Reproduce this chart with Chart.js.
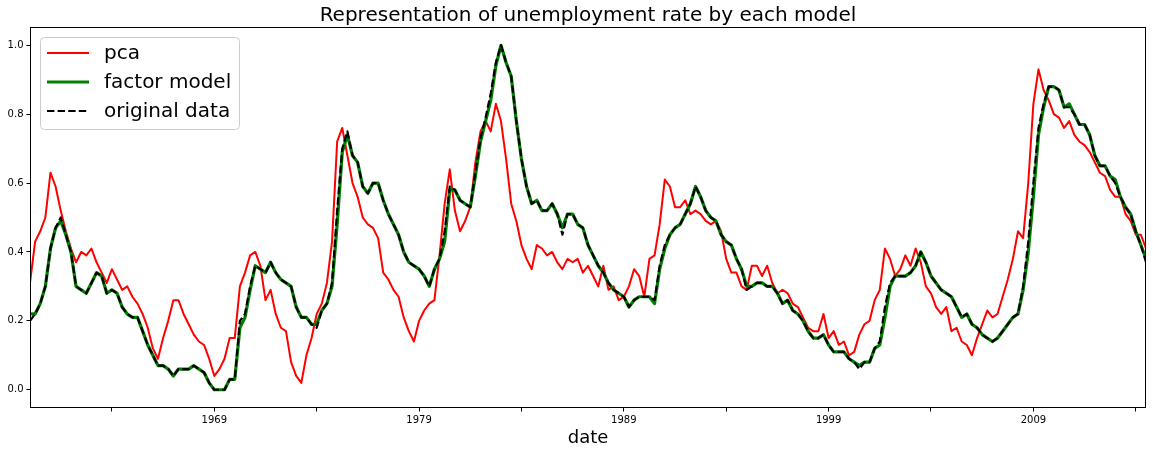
<!DOCTYPE html>
<html>
<head>
<meta charset="utf-8">
<script src="https://cdn.jsdelivr.net/npm/chart.js@4.4.0/dist/chart.umd.min.js"></script>
<style>
  html, body { margin: 0; padding: 0; background: #fff; }
  #wrap { width: 1153px; height: 454px; }
</style>
</head>
<body>
<div id="wrap"><canvas id="graphic" width="1153" height="454"></canvas></div>
<script>
// quarterly readings, first point = 1960 Q1
const startYear = 1960
const stepYears = 0.25

const pca = [
  0.31, 0.43, 0.46, 0.50, 0.63, 0.59, 0.52, 0.46, 0.41, 0.37,
  0.40, 0.39, 0.41, 0.37, 0.34, 0.31, 0.35, 0.32, 0.29, 0.30,
  0.27, 0.25, 0.22, 0.18, 0.12, 0.09, 0.15, 0.20, 0.26, 0.26,
  0.22, 0.19, 0.16, 0.14, 0.13, 0.09, 0.04, 0.06, 0.09, 0.15,
  0.15, 0.30, 0.34, 0.39, 0.40, 0.36, 0.26, 0.29, 0.22, 0.18,
  0.17, 0.08, 0.04, 0.02, 0.10, 0.15, 0.22, 0.25, 0.31, 0.43,
  0.72, 0.76, 0.68, 0.60, 0.56, 0.50, 0.48, 0.47, 0.44, 0.34,
  0.32, 0.29, 0.27, 0.21, 0.17, 0.14, 0.20, 0.23, 0.25, 0.26,
  0.39, 0.54, 0.64, 0.52, 0.46, 0.49, 0.53, 0.66, 0.75, 0.78,
  0.75, 0.83, 0.78, 0.67, 0.54, 0.49, 0.42, 0.38, 0.35, 0.42,
  0.41, 0.39, 0.40, 0.37, 0.35, 0.38, 0.37, 0.38, 0.34, 0.36,
  0.33, 0.30, 0.36, 0.29, 0.30, 0.26, 0.27, 0.30, 0.35, 0.33,
  0.27, 0.38, 0.39, 0.48, 0.61, 0.59, 0.53, 0.53, 0.55, 0.51,
  0.52, 0.51, 0.49, 0.48, 0.49, 0.46, 0.38, 0.34, 0.34, 0.30,
  0.29, 0.36, 0.36, 0.33, 0.36, 0.31, 0.28, 0.29, 0.28, 0.25,
  0.24, 0.21, 0.18, 0.17, 0.17, 0.22, 0.15, 0.17, 0.13, 0.14,
  0.10, 0.11, 0.16, 0.19, 0.20, 0.26, 0.29, 0.41, 0.38, 0.33,
  0.35, 0.39, 0.36, 0.41, 0.37, 0.30, 0.28, 0.24, 0.22, 0.24,
  0.17, 0.18, 0.14, 0.13, 0.10, 0.15, 0.19, 0.23, 0.21, 0.22,
  0.27, 0.32, 0.38, 0.46, 0.44, 0.60, 0.83, 0.93, 0.87, 0.84,
  0.80, 0.79, 0.76, 0.78, 0.74, 0.72, 0.71, 0.69, 0.66, 0.63,
  0.62, 0.58, 0.56, 0.56, 0.51, 0.49, 0.45, 0.45, 0.41
]

const factorModel = [
  0.22, 0.22, 0.25, 0.30, 0.41, 0.47, 0.49, 0.45, 0.40, 0.30,
  0.29, 0.28, 0.31, 0.34, 0.33, 0.28, 0.29, 0.28, 0.24, 0.22,
  0.21, 0.21, 0.17, 0.13, 0.10, 0.07, 0.07, 0.06, 0.04, 0.06,
  0.06, 0.06, 0.07, 0.06, 0.05, 0.02, 0.00, 0.00, 0.00, 0.03,
  0.03, 0.18, 0.21, 0.29, 0.36, 0.35, 0.34, 0.37, 0.34, 0.32,
  0.31, 0.30, 0.24, 0.21, 0.21, 0.19, 0.19, 0.23, 0.25, 0.30,
  0.48, 0.69, 0.74, 0.68, 0.66, 0.59, 0.57, 0.60, 0.60, 0.55,
  0.51, 0.48, 0.45, 0.40, 0.37, 0.36, 0.35, 0.33, 0.30, 0.35,
  0.38, 0.43, 0.58, 0.58, 0.55, 0.54, 0.53, 0.62, 0.72, 0.78,
  0.84, 0.94, 1.00, 0.95, 0.91, 0.78, 0.67, 0.59, 0.54, 0.55,
  0.52, 0.52, 0.54, 0.51, 0.47, 0.51, 0.51, 0.48, 0.47, 0.42,
  0.39, 0.36, 0.34, 0.31, 0.29, 0.28, 0.27, 0.24, 0.26, 0.27,
  0.27, 0.27, 0.25, 0.35, 0.41, 0.45, 0.47, 0.48, 0.51, 0.54,
  0.59, 0.56, 0.52, 0.50, 0.49, 0.45, 0.43, 0.42, 0.38, 0.35,
  0.30, 0.30, 0.31, 0.31, 0.30, 0.30, 0.28, 0.25, 0.26, 0.23,
  0.22, 0.20, 0.17, 0.15, 0.15, 0.16, 0.13, 0.11, 0.11, 0.11,
  0.09, 0.08, 0.07, 0.08, 0.08, 0.12, 0.13, 0.21, 0.30, 0.33,
  0.33, 0.33, 0.34, 0.36, 0.40, 0.37, 0.33, 0.31, 0.29, 0.28,
  0.27, 0.24, 0.21, 0.22, 0.19, 0.18, 0.16, 0.15, 0.14, 0.15,
  0.17, 0.19, 0.21, 0.22, 0.29, 0.40, 0.56, 0.74, 0.82, 0.88,
  0.88, 0.87, 0.82, 0.83, 0.80, 0.77, 0.77, 0.74, 0.68, 0.65,
  0.65, 0.62, 0.61, 0.56, 0.53, 0.51, 0.46, 0.42, 0.38
]

const originalData = [
  0.20, 0.22, 0.25, 0.30, 0.41, 0.47, 0.50, 0.45, 0.40, 0.30,
  0.29, 0.28, 0.31, 0.34, 0.33, 0.28, 0.29, 0.28, 0.24, 0.22,
  0.21, 0.21, 0.17, 0.13, 0.10, 0.07, 0.07, 0.06, 0.04, 0.06,
  0.06, 0.06, 0.07, 0.06, 0.05, 0.02, 0.00, 0.00, 0.00, 0.03,
  0.03, 0.20, 0.22, 0.30, 0.36, 0.35, 0.34, 0.37, 0.34, 0.32,
  0.31, 0.30, 0.24, 0.21, 0.21, 0.19, 0.18, 0.23, 0.25, 0.31,
  0.52, 0.70, 0.75, 0.68, 0.66, 0.59, 0.57, 0.60, 0.60, 0.55,
  0.51, 0.48, 0.45, 0.40, 0.37, 0.36, 0.35, 0.33, 0.30, 0.35,
  0.38, 0.46, 0.59, 0.58, 0.55, 0.54, 0.53, 0.63, 0.73, 0.79,
  0.86, 0.95, 1.00, 0.95, 0.91, 0.78, 0.67, 0.59, 0.54, 0.55,
  0.52, 0.52, 0.54, 0.51, 0.45, 0.51, 0.51, 0.48, 0.47, 0.42,
  0.39, 0.36, 0.34, 0.31, 0.29, 0.28, 0.27, 0.24, 0.26, 0.27,
  0.27, 0.27, 0.26, 0.36, 0.42, 0.45, 0.47, 0.48, 0.51, 0.54,
  0.59, 0.56, 0.52, 0.50, 0.49, 0.45, 0.43, 0.42, 0.38, 0.35,
  0.29, 0.30, 0.31, 0.31, 0.30, 0.30, 0.28, 0.25, 0.26, 0.23,
  0.22, 0.20, 0.17, 0.15, 0.15, 0.16, 0.13, 0.11, 0.11, 0.11,
  0.09, 0.08, 0.06, 0.08, 0.08, 0.12, 0.14, 0.24, 0.31, 0.33,
  0.33, 0.33, 0.34, 0.36, 0.40, 0.37, 0.33, 0.31, 0.29, 0.28,
  0.27, 0.24, 0.21, 0.22, 0.19, 0.18, 0.16, 0.15, 0.14, 0.15,
  0.17, 0.19, 0.21, 0.22, 0.30, 0.43, 0.60, 0.76, 0.83, 0.88,
  0.88, 0.87, 0.82, 0.82, 0.80, 0.77, 0.77, 0.74, 0.68, 0.65,
  0.65, 0.62, 0.60, 0.56, 0.53, 0.51, 0.46, 0.42, 0.37
]

const seriesNames = ['pca', 'factor model', 'original data']
const yTicks = [0, 0.2, 0.4, 0.6, 0.8, 1.0]
const xMajorTicks = [1969, 1979, 1989, 1999, 2009]
const xMinorTicks = [1964, 1974, 1984, 1994, 2004, 2014]
const chartTitle = 'Representation of unemployment rate by each model'
const xLabel = 'date'

const FONT = '"DejaVu Sans", "Liberation Sans", sans-serif'

const toPoints = (values) => values.map((v, i) => ({ x: startYear + i * stepYears, y: v }))

// matplotlib-like frame, title, x label and legend box
const decorPlugin = {
  id: 'decor',
  afterDraw(chart) {
    const { ctx, chartArea } = chart
    const { left, right, top, bottom } = chartArea
    ctx.save()

    ctx.strokeStyle = '#000'
    ctx.lineWidth = 1
    ctx.strokeRect(left + 0.5, top + 0.5, right - left - 1, bottom - top - 1)

    ctx.fillStyle = '#000'
    ctx.textAlign = 'center'
    ctx.textBaseline = 'alphabetic'
    ctx.font = '20px ' + FONT
    ctx.fillText(chartTitle, (left + right) / 2, 20.5)

    ctx.textBaseline = 'middle'
    ctx.font = '18px ' + FONT
    ctx.fillText(xLabel, (left + right) / 2, 438)

    // legend
    ctx.beginPath()
    ctx.roundRect(40.5, 37.5, 199, 92, 4)
    ctx.fillStyle = 'rgba(255,255,255,0.8)'
    ctx.fill()
    ctx.strokeStyle = '#cccccc'
    ctx.lineWidth = 1
    ctx.stroke()

    const rows = [53, 82, 111]
    chart.data.datasets.forEach((ds, i) => {
      const y = rows[i]
      ctx.beginPath()
      ctx.strokeStyle = ds.borderColor
      ctx.lineWidth = ds.borderWidth
      ctx.setLineDash(ds.borderDash || [])
      ctx.lineCap = 'butt'
      ctx.moveTo(47, y)
      ctx.lineTo(89, y)
      ctx.stroke()
      ctx.setLineDash([])
      ctx.fillStyle = '#000'
      ctx.textAlign = 'left'
      ctx.textBaseline = 'middle'
      ctx.font = '20px ' + FONT
      ctx.fillText(ds.label, 104, y + 1)
    })
    ctx.restore()
  }
}

const renderGrafico = () => {
  const ctx = document.querySelector('#graphic').getContext('2d')

  // lower "order" ends up on top
  new Chart(ctx, {
    type: 'line',
    data: {
      datasets: [
        {
          label: seriesNames[0],
          data: toPoints(pca),
          borderColor: 'red',
          borderWidth: 2,
          order: 3
        },
        {
          label: seriesNames[1],
          data: toPoints(factorModel),
          borderColor: 'green',
          borderWidth: 3.2,
          order: 2
        },
        {
          label: seriesNames[2],
          data: toPoints(originalData),
          borderColor: 'black',
          borderWidth: 2.2,
          borderDash: [7.4, 3.2],
          borderCapStyle: 'butt',
          order: 1
        }
      ]
    },
    options: {
      responsive: false,
      animation: false,
      devicePixelRatio: 1,
      elements: {
        point: { radius: 0 },
        line: { tension: 0, borderJoinStyle: 'round', fill: false }
      },
      layout: { padding: { top: 27, right: 7, left: 0, bottom: 0 } },
      plugins: {
        legend: { display: false },
        title: { display: false },
        tooltip: { enabled: false }
      },
      scales: {
        x: {
          type: 'linear',
          min: 1960,
          max: 2014.5,
          afterBuildTicks: (scale) => {
            scale.ticks = [...xMinorTicks, ...xMajorTicks].sort((a, b) => a - b).map(v => ({ value: v }))
          },
          afterFit: (scale) => { scale.height = 46 },
          ticks: {
            autoSkip: false,
            maxRotation: 0,
            padding: 3,
            color: '#000',
            font: { family: FONT, size: 10 },
            callback: (v) => xMajorTicks.includes(v) ? String(v) : ''
          },
          grid: {
            drawOnChartArea: false,
            drawTicks: true,
            tickLength: 3.5,
            tickColor: '#000',
            tickWidth: 1
          },
          border: { display: false }
        },
        y: {
          type: 'linear',
          min: -0.053,
          max: 1.053,
          afterBuildTicks: (scale) => {
            scale.ticks = yTicks.map(v => ({ value: v }))
          },
          afterFit: (scale) => { scale.width = 30 },
          ticks: {
            padding: 3,
            color: '#000',
            font: { family: FONT, size: 10 },
            callback: (v) => v.toFixed(1)
          },
          grid: {
            drawOnChartArea: false,
            drawTicks: true,
            tickLength: 3.5,
            tickColor: '#000',
            tickWidth: 1
          },
          border: { display: false }
        }
      }
    },
    plugins: [decorPlugin]
  })
}

renderGrafico()
</script>
</body>
</html>
